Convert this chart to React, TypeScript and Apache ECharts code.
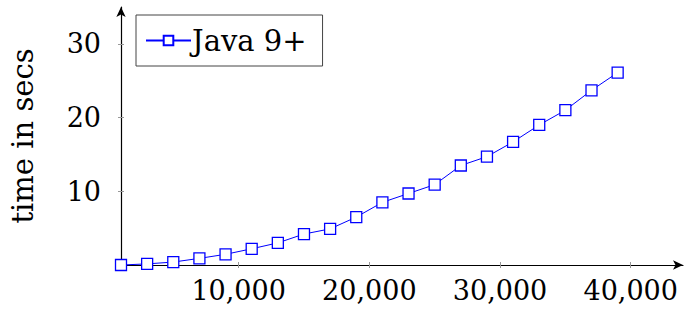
import React, { useEffect, useRef } from "react";
import * as echarts from "echarts";

const xValues = [1000, 3000, 5000, 7000, 9000, 11000, 13000, 15000, 17000, 19000, 21000, 23000, 25000, 27000, 29000, 31000, 33000, 35000, 37000, 39000];
const java9Times = [0.0, 0.15, 0.4, 0.9, 1.45, 2.2, 3.0, 4.2, 4.9, 6.5, 8.5, 9.7, 10.9, 13.5, 14.7, 16.7, 19.0, 21.0, 23.7, 26.1];
const xTicks = [10000, 20000, 30000, 40000];
const yTicks = [10, 20, 30];
const seriesName = "Java 9+";
const yName = "time in secs";

const FONT = "DejaVu Serif";

export default function App() {
  const ref = useRef<HTMLDivElement>(null);
  useEffect(() => {
    const chart = echarts.init(ref.current!, null, { renderer: "svg" });
    const tickStyle = { color: "#999", width: 1 };
    chart.setOption({
      animation: false,
      backgroundColor: "#fff",
      grid: { left: 119, right: 5, top: 7, bottom: 44, containLabel: false },
      legend: {
        left: 136,
        top: 15,
        orient: "horizontal",
        padding: [11, 16, 11, 9],
        borderColor: "#444",
        borderWidth: 1,
        itemWidth: 45,
        itemHeight: 12,
        itemGap: 4,
        textStyle: { fontFamily: FONT, fontSize: 29, color: "#000", padding: [0, 0, 0, -4] },
        data: [seriesName],
      },
      xAxis: [
        {
          type: "value",
          min: 1000,
          max: 44000,
          splitLine: { show: false },
          axisLine: { show: true, lineStyle: { color: "#000", width: 1.2 }, symbol: ["none", "arrow"], symbolSize: [7, 10] },
          axisTick: { show: true, length: 3, lineStyle: tickStyle, customValues: xTicks },
          axisLabel: {
            customValues: xTicks,
            margin: 12,
            fontFamily: FONT,
            fontSize: 27,
            color: "#000",
            formatter: (v: number) => v.toLocaleString("en-US"),
          },
        },
        {
          type: "value",
          min: 1000,
          max: 44000,
          position: "bottom",
          splitLine: { show: false },
          axisLine: { show: false },
          axisTick: { show: true, inside: true, length: 3, lineStyle: tickStyle, customValues: xTicks },
          axisLabel: { show: false },
        },
      ],
      yAxis: [
        {
          type: "value",
          min: 0,
          max: 35,
          name: yName,
          nameLocation: "middle",
          nameRotate: 90,
          nameGap: 84,
          nameTextStyle: { fontFamily: FONT, fontSize: 29, color: "#000" },
          splitLine: { show: false },
          axisLine: { show: true, lineStyle: { color: "#000", width: 1.2 }, symbol: ["none", "arrow"], symbolSize: [7, 10] },
          axisTick: { show: true, length: 3, lineStyle: tickStyle, customValues: yTicks },
          axisLabel: {
            customValues: yTicks,
            margin: 20,
            fontFamily: FONT,
            fontSize: 27,
            color: "#000",
          },
        },
        {
          type: "value",
          min: 0,
          max: 35,
          position: "left",
          splitLine: { show: false },
          axisLine: { show: false },
          axisTick: { show: true, inside: true, length: 3, lineStyle: tickStyle, customValues: yTicks },
          axisLabel: { show: false },
        },
      ],
      series: [
        {
          name: seriesName,
          type: "line",
          data: xValues.map((x, i) => [x, java9Times[i]]),
          symbol: "rect",
          symbolSize: 11,
          showAllSymbol: true,
          lineStyle: { color: "#0000ff", width: 1 },
          itemStyle: { color: "#fff", borderColor: "#0000ff", borderWidth: 1.3 },
          clip: false,
        },
      ],
    });
    return () => chart.dispose();
  }, []);
  return <div ref={ref} style={{ width: 688, height: 309, position: "absolute", left: 0, top: 0 }} />;
}
